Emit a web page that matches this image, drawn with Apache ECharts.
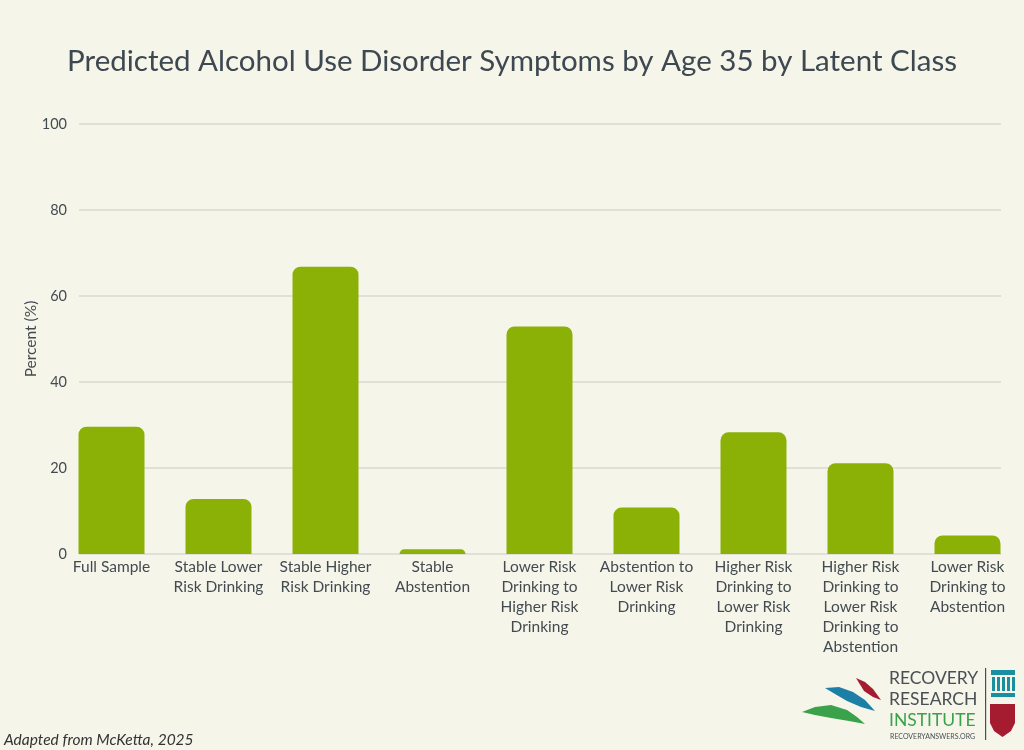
<!DOCTYPE html>
<html>
<head>
<meta charset="utf-8">
<script src="https://cdn.jsdelivr.net/npm/echarts@6/dist/echarts.min.js"></script>
<style>
    html, body { margin: 0; padding: 0; background: #f5f5ea; }
    #chart { width: 1024px; height: 750px; }
</style>
</head>
<body>
<div id="chart"></div>
<script>
'use strict';

// 数据
const categories = [
    'Full Sample',
    'Stable Lower\nRisk Drinking',
    'Stable Higher\nRisk Drinking',
    'Stable\nAbstention',
    'Lower Risk\nDrinking to\nHigher Risk\nDrinking',
    'Abstention to\nLower Risk\nDrinking',
    'Higher Risk\nDrinking to\nLower Risk\nDrinking',
    'Higher Risk\nDrinking to\nLower Risk\nDrinking to\nAbstention',
    'Lower Risk\nDrinking to\nAbstention'
];
const percentValues = [29.6, 12.8, 66.8, 1.1, 52.9, 10.8, 28.3, 21.1, 4.3];
const yTicks = [0, 20, 40, 60, 80, 100];

const textColor = '#444b50';
const fontName = 'Lato';

let myChart = echarts.init(document.getElementById('chart'));

let option = {
    backgroundColor: '#f5f5ea',
    textStyle: { fontFamily: fontName },
    title: {
        text: 'Predicted Alcohol Use Disorder Symptoms by Age 35 by Latent Class',
        left: 'center',
        top: 41,
        textStyle: {
            fontFamily: fontName,
            fontSize: 29.5,
            fontWeight: 'normal',
            color: '#3d4850'
        }
    },
    grid: [
        // 柱子
        {left: 58, right: 3, top: 124, bottom: 196},
        // 网格线和y轴
        {left: 79, right: 23, top: 124, bottom: 196}
    ],
    xAxis: [
        {
            type: 'category',
            gridIndex: 0,
            data: categories,
            axisLine: {show: false},
            axisTick: {show: false},
            axisLabel: {
                interval: 0,
                color: textColor,
                fontSize: 15.5,
                lineHeight: 20,
                margin: 3
            }
        },
        {
            type: 'value',
            gridIndex: 1,
            show: false
        }
    ],
    yAxis: [
        {
            // 只显示轴名称
            type: 'value',
            gridIndex: 0,
            min: yTicks[0],
            max: yTicks[yTicks.length - 1],
            interval: 20,
            name: 'Percent (%)',
            nameLocation: 'middle',
            nameGap: 19,
            nameTextStyle: {color: textColor, fontSize: 15.5},
            axisLine: {show: false},
            axisTick: {show: false},
            axisLabel: {show: false},
            splitLine: {show: false}
        },
        {
            type: 'value',
            gridIndex: 1,
            min: yTicks[0],
            max: yTicks[yTicks.length - 1],
            interval: 20,
            axisLine: {show: false},
            axisTick: {show: false},
            axisLabel: {color: textColor, fontSize: 14.5, margin: 12},
            splitLine: {lineStyle: {color: '#d9d9d2', width: 1.5}}
        }
    ],
    series: [
        {
            name: 'Percent',
            type: 'bar',
            xAxisIndex: 0,
            yAxisIndex: 0,
            data: percentValues,
            barWidth: 66,
            itemStyle: {
                color: '#8bb107',
                borderRadius: [8, 8, 0, 0]
            }
        }
    ],
    graphic: [
        {
            type: 'text',
            left: 4,
            top: 732,
            style: {
                text: 'Adapted from McKetta, 2025',
                font: 'italic 15.5px Lato',
                fill: '#333'
            }
        },
        // logo
        {
            type: 'group',
            left: 802,
            top: 668,
            children: [
                {type: 'polygon', shape: {points: [[55, 11], [64, 15], [72, 22], [80, 33], [72, 30], [63, 24]]}, style: {fill: '#a51c30'}},
                {type: 'polygon', shape: {points: [[24, 21], [38, 20], [52, 25], [64, 33], [74, 44], [60, 40], [46, 34], [34, 27]]}, style: {fill: '#1b7fa6'}},
                {type: 'polygon', shape: {points: [[1, 45], [14, 40], [30, 38], [46, 43], [56, 50], [64, 57], [48, 54], [30, 51], [14, 48]]}, style: {fill: '#3aa24a'}},
                {type: 'text', x: 88, y: 2, style: {text: 'RECOVERY', font: '17.5px Lato', fill: '#4a4f55'}},
                {type: 'text', x: 88, y: 23, style: {text: 'RESEARCH', font: '17.5px Lato', fill: '#4a4f55'}},
                {type: 'text', x: 88, y: 44, style: {text: 'INSTITUTE', font: '17.5px Lato', fill: '#3aa24a', letterSpacing: 1.5}},
                {type: 'text', x: 89, y: 66, style: {text: 'RECOVERYANSWERS.ORG', font: '7px Lato', fill: '#4a4f55'}},
                {type: 'rect', shape: {x: 184, y: 1, width: 1.2, height: 72}, style: {fill: '#4a4f55'}},
                // 柱廊图标
                {type: 'rect', shape: {x: 190, y: 3, width: 24, height: 5}, style: {fill: '#1b8ea0'}},
                {type: 'rect', shape: {x: 191, y: 10, width: 3, height: 14}, style: {fill: '#1b8ea0'}},
                {type: 'rect', shape: {x: 196, y: 10, width: 3, height: 14}, style: {fill: '#1b8ea0'}},
                {type: 'rect', shape: {x: 201, y: 10, width: 3, height: 14}, style: {fill: '#1b8ea0'}},
                {type: 'rect', shape: {x: 206, y: 10, width: 3, height: 14}, style: {fill: '#1b8ea0'}},
                {type: 'rect', shape: {x: 211, y: 10, width: 3, height: 14}, style: {fill: '#1b8ea0'}},
                {type: 'rect', shape: {x: 190, y: 26, width: 24, height: 4}, style: {fill: '#1b8ea0'}},
                {type: 'polygon', shape: {points: [[189, 37], [214, 37], [214, 56], [210, 64], [201.5, 70], [193, 64], [189, 56]]}, style: {fill: '#a51c30'}}
            ]
        }
    ]
};

myChart.setOption(option);
</script>
</body>
</html>
